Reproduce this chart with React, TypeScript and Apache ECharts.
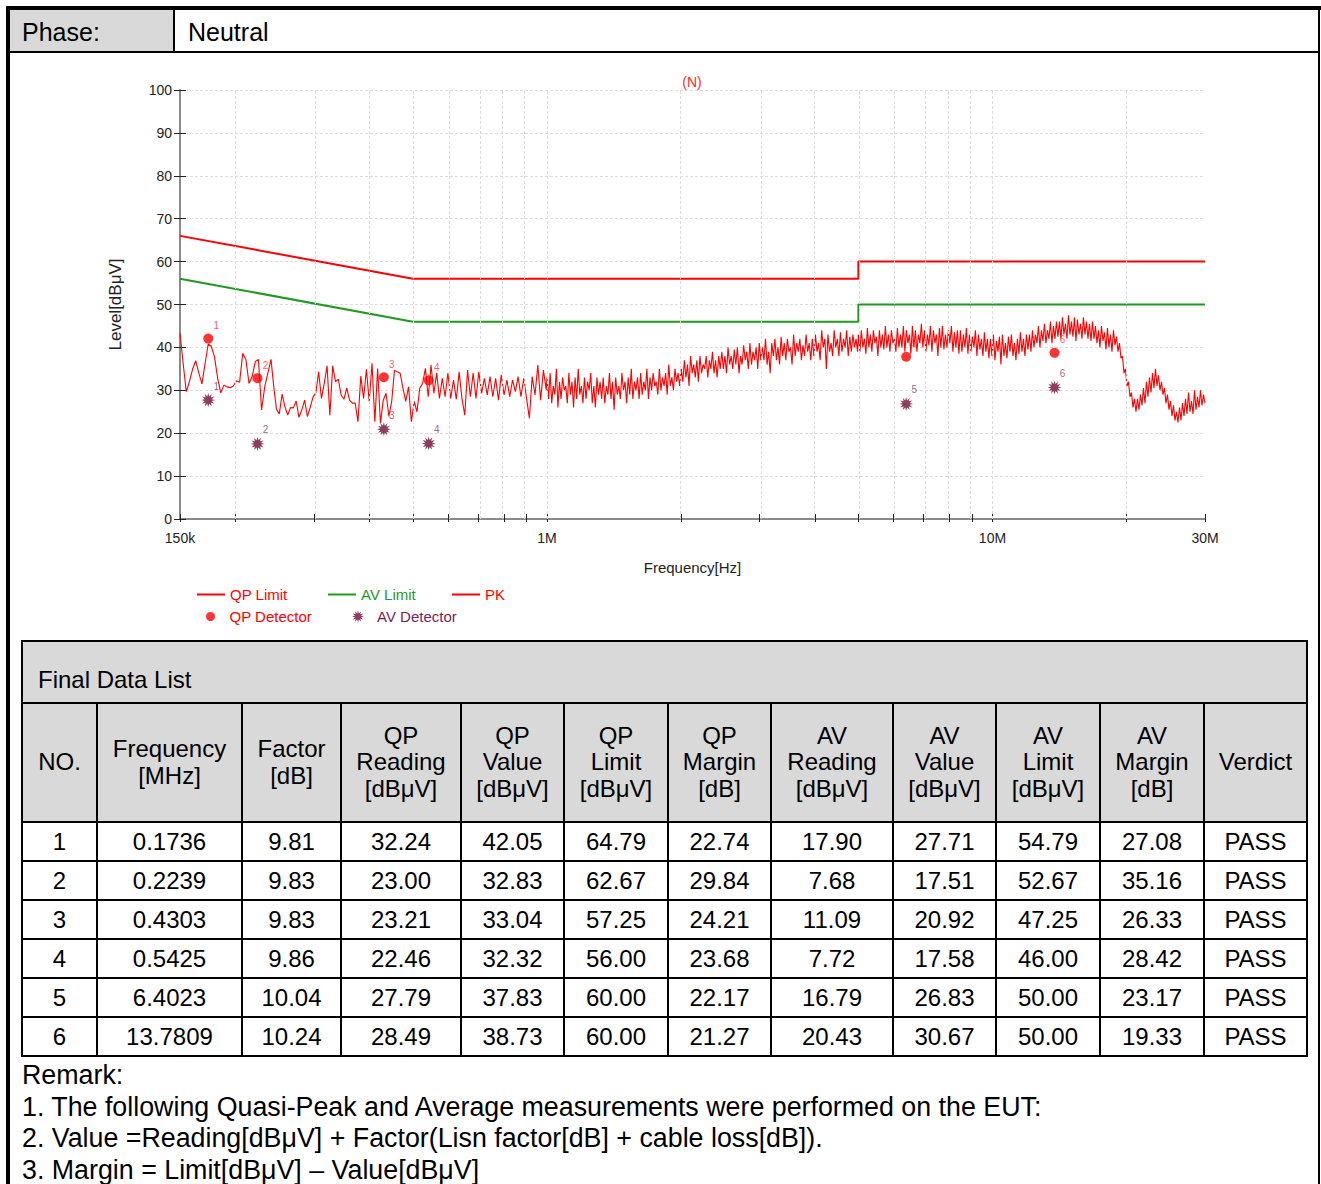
import React, { useEffect, useRef } from "react";
import * as echarts from "echarts";

const FONT = '"Liberation Sans", Arial, Helvetica, sans-serif';

// ---------- Final data list ----------
const peakNo = [1, 2, 3, 4, 5, 6];
const freqMHz = [0.1736, 0.2239, 0.4303, 0.5425, 6.4023, 13.7809];
const factorDb = [9.81, 9.83, 9.83, 9.86, 10.04, 10.24];
const qpReading = [32.24, 23.0, 23.21, 22.46, 27.79, 28.49];
const qpValue = [42.05, 32.83, 33.04, 32.32, 37.83, 38.73];
const qpLimit = [64.79, 62.67, 57.25, 56.0, 60.0, 60.0];
const qpMargin = [22.74, 29.84, 24.21, 23.68, 22.17, 21.27];
const avReading = [17.9, 7.68, 11.09, 7.72, 16.79, 20.43];
const avValue = [27.71, 17.51, 20.92, 17.58, 26.83, 30.67];
const avLimit = [54.79, 52.67, 47.25, 46.0, 50.0, 50.0];
const avMargin = [27.08, 35.16, 26.33, 28.42, 23.17, 19.33];
const verdict = ["PASS", "PASS", "PASS", "PASS", "PASS", "PASS"];

// ---------- Limit lines ----------
const limitFreqMHz = [0.15, 0.5, 5, 5, 30];
const qpLimitLevel = [66, 56, 56, 60, 60];
const avLimitLevel = [56, 46, 46, 50, 50];

// ---------- Axis ticks ----------
const tickFreqMHz = [0.15, 0.2, 0.3, 0.4, 0.5, 0.6, 0.7, 0.8, 0.9, 1, 2, 3, 4, 5, 6, 7, 8, 9, 10, 20, 30];
const gridFreqMHz = [0.2, 0.3, 0.4, 0.5, 0.6, 0.7, 0.8, 0.9, 1, 2, 3, 4, 5, 6, 7, 8, 9, 10, 20, 30];
const labelFreqMHz = [0.15, 1, 10, 30];
const labelText = ["150k", "1M", "10M", "30M"];

// ---------- PK trace (readings, evenly swept in log frequency per band) ----------
const pkBandMHz = [
  [0.15, 0.244],
  [0.247, 0.996],
  [1.0, 4.98],
  [5.0, 30],
];
const pkBand1 = [43.3, 36.3, 29.7, 32.0, 34.9, 36.9, 34.0, 31.5, 36.3, 40.8, 40.2, 37.8, 32.8, 29.4, 31.2, 30.8, 30.6, 31.0, 32.2, 31.9, 38.6, 37.2, 31.6, 33.2, 36.7, 37.2, 25.4, 30.8, 34.0, 37.2, 30.1];
const pkBand2 = [25.6, 24.5, 29.1, 26.2, 24.2, 26.0, 25.9, 27.5, 23.7, 25.4, 27.7, 23.9, 26.0, 28.4, 29.4, 34.3, 28.1, 31.6, 35.7, 24.2, 35.7, 32.0, 32.6, 28.9, 27.9, 30.5, 27.7, 27.0, 27.0, 22.7, 33.3, 28.1, 34.9, 27.4, 36.3, 22.7, 35.1, 22.3, 27.7, 29.3, 23.9, 27.4, 34.7, 34.3, 34.0, 30.5, 27.4, 30.8, 22.7, 27.4, 25.0, 30.5, 31.6, 35.1, 28.5, 35.9, 29.3, 34.0, 28.1, 32.8, 28.5, 34.0, 28.1, 32.4, 27.9, 34.3, 28.1, 24.2, 34.7, 28.5, 34.0, 28.1, 34.3, 29.3, 32.8, 28.9, 33.2, 28.5, 32.8, 27.7, 33.6, 28.9, 32.4, 28.5, 32.4, 29.7, 33.2, 28.5, 32.8, 28.1, 23.5, 33.2, 28.9, 35.9, 27.7, 34.7, 30.1];
const pkBand3 = [
  33, 28, 34, 27, 31, 29, 35, 26, 32, 28, 33, 30, 31, 27, 34, 29, 32, 26, 33, 28, 35, 29, 31, 27, 33, 28, 32, 30, 34, 27, 31, 26, 33, 29,
  32, 28, 33, 27, 31, 29, 34, 28, 32, 25.5, 33, 29, 31, 28, 34, 30, 32, 27, 33, 29, 35, 28, 32, 30, 33, 28,
  34, 29, 32, 30, 35, 28, 33, 30, 34, 31, 32, 29, 35, 30, 33, 31, 34, 29, 36, 31, 33, 30, 35, 32, 34, 31,
  35, 32, 37, 33, 36, 31, 38, 34, 36, 33, 37, 32, 38, 34, 36, 35, 38, 33, 37, 35, 39, 34, 37, 33, 38, 35,
  39, 35, 38, 34, 40, 36, 38, 35, 39.5, 36, 40, 34, 38, 36, 40.5, 37, 39, 35, 41, 36, 39, 37, 40, 35, 41, 37,
  40, 37, 42, 36, 39, 34, 41, 38, 42, 37, 40, 36, 42.5, 38, 41, 37, 42, 39, 40, 36, 43, 38, 41, 39, 42, 37, 40.5, 38, 43, 39, 41, 37,
  42, 38, 43, 39, 41, 37, 44, 40, 42, 35, 43, 39, 41, 38, 44, 40, 42, 38, 43.5, 39, 42, 40, 44, 38, 42.5, 39, 43, 40, 42, 39,
];
const pkBand4 = [
  43, 39, 44, 40, 42, 38.5, 44.5, 40, 43, 39, 44, 41, 42.5, 38, 44, 40, 43, 39.5, 45, 40, 43, 39, 44, 41, 42, 39, 44.5, 40,
  43, 40, 45, 39, 44, 41, 43, 38.5, 45, 40, 44, 39, 43, 41, 45.5, 40, 44, 39, 43, 40.5, 45, 39, 44, 41, 43, 38, 44.5, 40, 45, 39.5, 43, 40, 44, 41, 45, 39, 43.5, 40, 44, 38.5,
  44, 39, 43, 40, 44.5, 38.5, 43, 39, 42.5, 40, 44, 38, 43, 39.5, 42, 38, 43.5, 39, 42, 37.5,
  42, 38, 43, 37, 41.5, 39, 42.5, 36, 43, 38, 41, 37.5, 42.5, 39, 43, 38, 41, 37, 42, 38.5, 43.5, 39, 42, 38, 43, 39.5,
  43, 39, 44, 40, 43, 41, 45, 40, 44, 41.5, 45.5, 41, 44, 42, 46, 41, 45, 42, 46, 42.5,
  46, 42, 47, 43, 45.5, 42, 47.5, 43, 46, 42.5, 47, 41.5, 46.5, 43, 45.5, 42, 47, 43, 46, 42, 45.5, 41.5, 46, 42,
  45, 41, 44, 40, 45, 41.5, 43.5, 39.5, 44.5, 40, 43, 39, 44, 40.5, 42.5, 39,
  41, 37.5, 38, 34, 35, 31, 32, 28.5, 29.5, 26, 28, 25,
  28, 25.5, 29, 26.5, 30.5, 27, 32, 28.5, 33, 29.5, 34, 30.5, 35, 31,
  33.5, 30, 32, 29, 30.5, 27, 29, 25.5, 27.5, 24, 26.5, 23, 25, 22.5,
  26, 23, 27, 24, 28, 24.5, 29.5, 25, 27.5, 24.5, 30, 25.5, 28.5, 26, 30, 26.5, 29, 27,
];
const pkBands = [pkBand1, pkBand2, pkBand3, pkBand4];

const headers = [
  ["NO."],
  ["Frequency", "[MHz]"],
  ["Factor", "[dB]"],
  ["QP", "Reading", "[dBμV]"],
  ["QP", "Value", "[dBμV]"],
  ["QP", "Limit", "[dBμV]"],
  ["QP", "Margin", "[dB]"],
  ["AV", "Reading", "[dBμV]"],
  ["AV", "Value", "[dBμV]"],
  ["AV", "Limit", "[dBμV]"],
  ["AV", "Margin", "[dB]"],
  ["Verdict"],
];

const remarks = [
  "Remark:",
  "1. The following Quasi-Peak and Average measurements were performed on the EUT:",
  "2. Value =Reading[dBμV] + Factor(Lisn factor[dB] + cable loss[dB]).",
  "3. Margin = Limit[dBμV] – Value[dBμV]",
];

// layout (page pixels)
const colEdges = [22, 97, 242, 341, 461, 564, 668, 771, 893, 996, 1100, 1204, 1307];
const rowEdges = [641, 703, 822, 861, 900, 939, 978, 1017, 1056];

const lg = (mhz: number) => Math.log10(mhz * 1e6);

function starPath(): string {
  let d = "";
  for (let k = 0; k < 24; k++) {
    const r = k % 2 === 0 ? 10 : 5.2;
    const a = (Math.PI * k) / 12 - Math.PI / 2;
    d += (k === 0 ? "M" : "L") + (10 + r * Math.cos(a)).toFixed(2) + "," + (10 + r * Math.sin(a)).toFixed(2) + " ";
  }
  return "path://" + d + "Z";
}

function buildPk(): number[][] {
  const out: number[][] = [];
  pkBands.forEach((levels, bi) => {
    const a = lg(pkBandMHz[bi][0]);
    const b = lg(pkBandMHz[bi][1]);
    const n = levels.length;
    levels.forEach((v, i) => out.push([a + ((b - a) * i) / (n - 1), v]));
  });
  return out;
}

function Chart() {
  const ref = useRef<HTMLDivElement>(null);
  useEffect(() => {
    if (!ref.current) return;
    const chart = echarts.init(ref.current, undefined, { renderer: "svg" });
    const xMin = lg(0.15);
    const xMax = lg(30);
    const tickVals = tickFreqMHz.map(lg);
    const labelVals = labelFreqMHz.map(lg);
    const STAR = starPath();
    const RED = "#ff0000";
    const GREEN = "#1f9a1f";
    const PURPLE = "#700c3a";
    const baseX = {
      type: "value",
      min: xMin,
      max: xMax,
      position: "bottom",
      splitLine: { show: false },
    };
    const baseY = { type: "value", min: 0, max: 100, interval: 10, position: "left" };
    const legendCommon = {
      orient: "horizontal",
      padding: 0,
      itemGap: 0,
      selectedMode: false,
    };
    const option: any = {
      animation: false,
      textStyle: { fontFamily: FONT },
      grid: { left: 180, top: 90, width: 1025, height: 429, containLabel: false },
      graphic: [
        {
          type: "text",
          x: 692,
          y: 82,
          style: { text: "(N)", fill: "#ff2a2a", font: `14px ${FONT}`, textAlign: "center", textVerticalAlign: "middle" },
        },
      ],
      legend: [
        { ...legendCommon, left: 197, top: 587, itemWidth: 28, itemHeight: 2, data: [{ name: "QP Limit", icon: "rect" }], textStyle: { color: RED, fontSize: 15, fontFamily: FONT } },
        { ...legendCommon, left: 328, top: 587, itemWidth: 28, itemHeight: 2, data: [{ name: "AV Limit", icon: "rect" }], textStyle: { color: GREEN, fontSize: 15, fontFamily: FONT } },
        { ...legendCommon, left: 452, top: 587, itemWidth: 28, itemHeight: 2, data: [{ name: "PK", icon: "rect" }], textStyle: { color: RED, fontSize: 15, fontFamily: FONT } },
        { ...legendCommon, left: 206, top: 609, itemWidth: 28, itemHeight: 9, data: [{ name: "QP Detector", icon: "circle" }], textStyle: { color: RED, fontSize: 15, fontFamily: FONT } },
        { ...legendCommon, left: 352, top: 609, itemWidth: 28, itemHeight: 12, data: [{ name: "AV Detector", icon: STAR }], textStyle: { color: "#7a1f58", fontSize: 15, fontFamily: FONT } },
      ],
      xAxis: [
        {
          ...baseX,
          name: "Frequency[Hz]",
          nameLocation: "middle",
          nameGap: 41,
          nameTextStyle: { color: "#222", fontSize: 15, fontFamily: FONT },
          axisLine: { show: true, lineStyle: { color: "#8a8a8a", width: 2 } },
          axisTick: { show: true, inside: true, length: 5, customValues: tickVals, lineStyle: { color: "#222", width: 1 } },
          axisLabel: {
            show: true,
            customValues: labelVals,
            margin: 12,
            color: "#222",
            fontSize: 14,
            fontFamily: FONT,
            formatter: (v: number) => {
              let best = 0;
              labelVals.forEach((lv, i) => {
                if (Math.abs(lv - v) < Math.abs(labelVals[best] - v)) best = i;
              });
              return labelText[best];
            },
          },
        },
        {
          ...baseX,
          axisLine: { show: false },
          axisTick: { show: true, inside: false, length: 3, customValues: tickVals, lineStyle: { color: "#222", width: 1 } },
          axisLabel: { show: false },
        },
      ],
      yAxis: [
        {
          ...baseY,
          name: "Level[dBμV]",
          nameLocation: "middle",
          nameGap: 56,
          nameTextStyle: { color: "#222", fontSize: 17, fontFamily: FONT },
          axisLine: { show: true, lineStyle: { color: "#8a8a8a", width: 2 } },
          axisTick: { show: true, inside: false, length: 6, lineStyle: { color: "#222", width: 1 } },
          axisLabel: { show: true, margin: 8, color: "#222", fontSize: 14, fontFamily: FONT },
          splitLine: { show: true, lineStyle: { color: "#dcdcdc", type: [3, 2], width: 1 } },
        },
        {
          ...baseY,
          axisLine: { show: false },
          axisTick: { show: true, inside: true, length: 6, lineStyle: { color: "#222", width: 1 } },
          axisLabel: { show: false },
          splitLine: { show: false },
        },
      ],
      series: [
        {
          name: "grid",
          type: "line",
          data: [[xMin, 0]],
          symbol: "none",
          lineStyle: { opacity: 0 },
          z: 0,
          silent: true,
          markLine: {
            silent: true,
            symbol: ["none", "none"],
            label: { show: false },
            lineStyle: { color: "#dcdcdc", type: [3, 2], width: 1 },
            data: gridFreqMHz.map((f) => ({ xAxis: lg(f) })),
          },
        },
        {
          name: "PK",
          type: "line",
          data: buildPk(),
          symbol: "none",
          color: RED,
          lineStyle: { color: RED, width: 1.1 },
          z: 2,
        },
        {
          name: "QP Limit",
          type: "line",
          data: limitFreqMHz.map((f, i) => [lg(f), qpLimitLevel[i]]),
          symbol: "none",
          color: RED,
          lineStyle: { color: RED, width: 2 },
          z: 3,
        },
        {
          name: "AV Limit",
          type: "line",
          data: limitFreqMHz.map((f, i) => [lg(f), avLimitLevel[i]]),
          symbol: "none",
          color: GREEN,
          lineStyle: { color: GREEN, width: 2 },
          z: 3,
        },
        {
          name: "QP Detector",
          type: "scatter",
          symbol: "circle",
          symbolSize: 10,
          color: RED,
          itemStyle: { color: RED },
          data: freqMHz.map((f, i) => ({ name: String(peakNo[i]), value: [lg(f), qpValue[i]] })),
          label: { show: true, position: "top", offset: [8, 2], formatter: "{b}", color: "#ff3030", fontSize: 10, fontFamily: FONT },
          z: 5,
        },
        {
          name: "AV Detector",
          type: "scatter",
          symbol: STAR,
          symbolSize: 14,
          color: PURPLE,
          itemStyle: { color: PURPLE },
          data: freqMHz.map((f, i) => ({ name: String(peakNo[i]), value: [lg(f), avValue[i]] })),
          label: { show: true, position: "top", offset: [8, 3], formatter: "{b}", color: "#8a3a6e", fontSize: 10, fontFamily: FONT },
          z: 5,
        },
      ],
    };
    chart.setOption(option);
    return () => chart.dispose();
  }, []);
  return <div ref={ref} style={{ position: "absolute", left: 0, top: 0, width: 1321, height: 640 }} />;
}

const abs = (l: number, t: number, w: number, h: number, extra: React.CSSProperties = {}): React.CSSProperties => ({
  position: "absolute",
  left: l,
  top: t,
  width: w,
  height: h,
  ...extra,
});

function DataTable() {
  const L = colEdges[0];
  const R = colEdges[colEdges.length - 1];
  const T = rowEdges[0];
  const B = rowEdges[rowEdges.length - 1];
  const rows = peakNo.map((n, i) => [
    String(n),
    freqMHz[i].toFixed(4),
    factorDb[i].toFixed(2),
    qpReading[i].toFixed(2),
    qpValue[i].toFixed(2),
    qpLimit[i].toFixed(2),
    qpMargin[i].toFixed(2),
    avReading[i].toFixed(2),
    avValue[i].toFixed(2),
    avLimit[i].toFixed(2),
    avMargin[i].toFixed(2),
    verdict[i],
  ]);
  const els: React.ReactNode[] = [];
  els.push(<div key="bg" style={abs(L, T, R - L, rowEdges[2] - T, { background: "#d9d9d9" })} />);
  rowEdges.forEach((y, i) =>
    els.push(<div key={"h" + i} style={abs(L - 1, y - 1, R - L + 2, 2, { background: "#000" })} />)
  );
  colEdges.forEach((x, i) => {
    const top = i === 0 || i === colEdges.length - 1 ? T : rowEdges[1];
    els.push(<div key={"v" + i} style={abs(x - 1, top - 1, 2, B - top + 2, { background: "#000" })} />);
  });
  els.push(
    <div key="title" style={abs(L + 16, T + 24, 400, 30, { display: "flex", alignItems: "center", fontSize: 24 })}>
      Final Data List
    </div>
  );
  headers.forEach((lines, c) => {
    els.push(
      <div
        key={"hd" + c}
        style={abs(colEdges[c], rowEdges[1], colEdges[c + 1] - colEdges[c], rowEdges[2] - rowEdges[1], {
          display: "flex",
          flexDirection: "column",
          alignItems: "center",
          justifyContent: "center",
          fontSize: 24,
          lineHeight: "26.5px",
          textAlign: "center",
        })}
      >
        {lines.map((t, k) => (
          <div key={k}>{t}</div>
        ))}
      </div>
    );
  });
  rows.forEach((cells, r) =>
    cells.forEach((t, c) =>
      els.push(
        <div
          key={"d" + r + "_" + c}
          style={abs(colEdges[c], rowEdges[r + 2], colEdges[c + 1] - colEdges[c], rowEdges[r + 3] - rowEdges[r + 2], {
            display: "flex",
            alignItems: "center",
            justifyContent: "center",
            fontSize: 24,
          })}
        >
          {t}
        </div>
      )
    )
  );
  return <>{els}</>;
}

export default function App() {
  return (
    <div style={{ position: "relative", width: 1321, height: 1184, overflow: "hidden", background: "#fff", fontFamily: FONT, color: "#000" }}>
      <style>{`html,body{margin:0;padding:0;background:#fff;}`}</style>
      {/* Phase row */}
      <div style={abs(9, 10, 165, 42, { background: "#d9d9d9" })} />
      <div style={abs(22, 11, 150, 42, { display: "flex", alignItems: "center", fontSize: 25 })}>Phase:</div>
      <div style={abs(188, 11, 300, 42, { display: "flex", alignItems: "center", fontSize: 25 })}>Neutral</div>
      <Chart />
      <DataTable />
      {remarks.map((t, i) => (
        <div key={"rm" + i} style={abs(22, 1059 + i * 31.5, 1280, 32, { fontSize: 26.8, lineHeight: "32px", whiteSpace: "nowrap" })}>
          {t}
        </div>
      ))}
      {/* frame lines */}
      <div style={abs(6, 6, 1315, 4, { background: "#000", zIndex: 5 })} />
      <div style={abs(6, 6, 4, 1178, { background: "#000", zIndex: 5 })} />
      <div style={abs(1318, 10, 2, 1174, { background: "#000", zIndex: 5 })} />
      <div style={abs(173, 10, 2, 42, { background: "#000", zIndex: 5 })} />
      <div style={abs(9, 51, 1311, 2, { background: "#000", zIndex: 5 })} />
    </div>
  );
}
